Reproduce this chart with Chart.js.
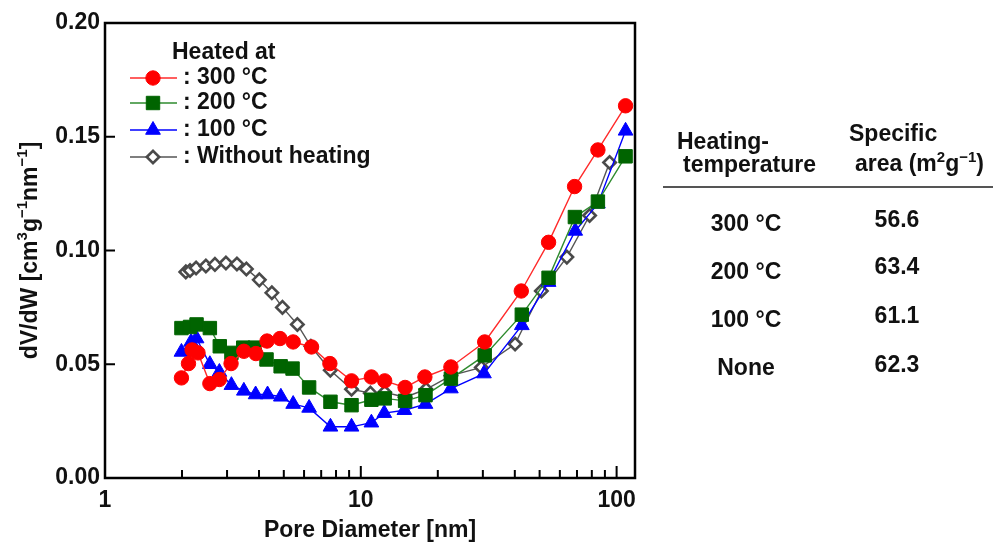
<!DOCTYPE html>
<html>
<head>
<meta charset="utf-8">
<script src="https://cdn.jsdelivr.net/npm/chart.js@4.4.1/dist/chart.umd.min.js"></script>
<style>
  html, body { margin: 0; padding: 0; background: #fff; }
  #wrap { position: relative; width: 993px; height: 548px; overflow: hidden; }
  #chart { position: absolute; left: 0; top: 0; }
  .cell { position: absolute; font: bold 23px "Liberation Sans", Arial, sans-serif; color: #111; white-space: nowrap; line-height: 1.15; }
  .c { transform: translate(-50%, -50%); }
  .l { transform: translateY(-50%); }
  .cell sup { font-size: 15px; line-height: 0; }
  #rule { position: absolute; left: 663px; top: 186px; width: 330px; height: 2px; background: #555; }
</style>
</head>
<body>
<div id="wrap">
  <canvas id="chart" width="993" height="548"></canvas>
  <div class="cell l" style="left:677px; top:141px;">Heating-</div>
  <div class="cell l" style="left:683px; top:164px;">temperature</div>
  <div class="cell l" style="left:849px; top:133px;">Specific</div>
  <div class="cell l" style="left:855px; top:163px;">area (m<sup>2</sup>g<sup>−1</sup>)</div>
  <div id="rule"></div>
  <div id="rows"></div>
</div>
<script>
// pore diameter (nm) and dV/dW for each sample
const dia300 = [1.99, 2.12, 2.19, 2.31, 2.57, 2.80, 3.11, 3.49, 3.89, 4.30, 4.83, 5.44, 6.42, 7.57, 9.20, 11.0, 12.4, 14.9, 17.8, 22.5, 30.5, 42.4, 54.2, 68.5, 84.5, 108.4];
const dvdw300 = [0.0440, 0.0503, 0.0563, 0.0550, 0.0415, 0.0433, 0.0503, 0.0557, 0.0547, 0.0602, 0.0613, 0.0598, 0.0576, 0.0503, 0.0427, 0.0444, 0.0427, 0.0398, 0.0444, 0.0488, 0.0598, 0.0822, 0.1036, 0.1281, 0.1442, 0.1636];

const dia200 = [1.99, 2.15, 2.28, 2.57, 2.81, 3.12, 3.47, 3.85, 4.28, 4.86, 5.41, 6.28, 7.61, 9.20, 11.0, 12.4, 14.9, 17.9, 22.5, 30.5, 42.6, 54.2, 68.7, 84.5, 108.4];
const dvdw200 = [0.0659, 0.0664, 0.0675, 0.0659, 0.0579, 0.0550, 0.0573, 0.0573, 0.0521, 0.0491, 0.0481, 0.0398, 0.0335, 0.0320, 0.0344, 0.0350, 0.0339, 0.0364, 0.0437, 0.0539, 0.0718, 0.0880, 0.1147, 0.1215, 0.1414];

const dia100 = [1.99, 2.17, 2.28, 2.57, 2.80, 3.12, 3.49, 3.88, 4.32, 4.87, 5.44, 6.28, 7.61, 9.20, 11.0, 12.35, 14.8, 17.9, 22.5, 30.3, 42.6, 54.2, 68.9, 84.5, 108.4];
const dvdw100 = [0.0554, 0.0598, 0.0613, 0.0500, 0.0466, 0.0408, 0.0383, 0.0367, 0.0367, 0.0357, 0.0325, 0.0308, 0.0225, 0.0225, 0.0243, 0.0285, 0.0298, 0.0325, 0.0393, 0.0459, 0.0671, 0.0861, 0.1086, 0.1206, 0.1526];

const diaNone = [2.07, 2.15, 2.27, 2.48, 2.69, 2.97, 3.28, 3.57, 4.01, 4.49, 4.94, 5.65, 6.38, 7.60, 9.20, 10.9, 12.4, 14.9, 18.0, 22.5, 29.6, 40.1, 50.8, 63.9, 78.4, 93.9];
const dvdwNone = [0.0906, 0.0912, 0.0923, 0.0932, 0.0939, 0.0945, 0.0941, 0.0919, 0.0871, 0.0814, 0.0750, 0.0675, 0.0579, 0.0474, 0.0390, 0.0373, 0.0377, 0.0355, 0.0390, 0.0450, 0.0486, 0.0589, 0.0822, 0.0971, 0.1154, 0.1387];

const legendLabels = [": 300 \u00b0C", ": 200 \u00b0C", ": 100 \u00b0C", ": Without heating"];
const xTickValues = [1, 2, 3, 4, 5, 6, 7, 8, 9, 10, 20, 30, 40, 50, 60, 70, 80, 90, 100];
const xLabelValues = [1, 10, 100];

// table on the right
const tableTemps = ["300 \u00b0C", "200 \u00b0C", "100 \u00b0C", "None"];
const tableAreas = ["56.6", "63.4", "61.1", "62.3"];
const tableTempY = [223, 271, 319, 367];
const tableAreaY = [219, 266, 315, 364];

const rows = document.getElementById("rows");
tableTemps.forEach((t, i) => {
  rows.insertAdjacentHTML("beforeend",
    `<div class="cell c" style="left:746px; top:${tableTempY[i]}px;">${t}</div>` +
    `<div class="cell c" style="left:897px; top:${tableAreaY[i]}px;">${tableAreas[i]}</div>`);
});

const FONT = '"Liberation Sans", Arial, sans-serif';
const pts = (xs, ys) => xs.map((x, i) => ({ x: x, y: ys[i] }));

const series = [
  { data: pts(dia300, dvdw300), line: "#ff2a2a", fill: "#ff0000", edge: "#ff0000", style: "circle", r: 7.2, bw: 1 },
  { data: pts(dia200, dvdw200), line: "#2e8b2e", fill: "#006400", edge: "#006400", style: "rect", r: 9.5, bw: 1 },
  { data: pts(dia100, dvdw100), line: "#0000ff", fill: "#0000ff", edge: "#0000ff", style: "triangle", r: 8.5, bw: 1 },
  { data: pts(diaNone, dvdwNone), line: "#555555", fill: "#ffffff", edge: "#4a4a4a", style: "rectRot", r: 6.2, bw: 2.6 },
];

const frameAndLegend = {
  id: "frameAndLegend",
  afterDraw(chart) {
    const { ctx, chartArea: a, scales } = chart;
    const x = scales.x, y = scales.y;
    ctx.save();
    ctx.strokeStyle = "#000";
    ctx.lineWidth = 2.5;
    ctx.strokeRect(a.left, a.top, a.right - a.left, a.bottom - a.top);

    // inward tick marks
    ctx.lineWidth = 2;
    ctx.beginPath();
    xTickValues.forEach((v) => {
      const px = x.getPixelForValue(v);
      const len = xLabelValues.includes(v) ? 12 : 8;
      ctx.moveTo(px, a.bottom);
      ctx.lineTo(px, a.bottom - len);
    });
    y.ticks.forEach((t) => {
      const py = y.getPixelForValue(t.value);
      ctx.moveTo(a.left, py);
      ctx.lineTo(a.left + 10, py);
    });
    ctx.stroke();

    // y axis title with superscripts
    const parts = [["dV/dW [cm", 0], ["3", 1], ["g", 0], ["\u22121", 1], ["nm", 0], ["\u22121", 1], ["]", 0]];
    const big = "bold 23px " + FONT, small = "bold 15px " + FONT;
    let total = 0;
    parts.forEach((p) => { ctx.font = p[1] ? small : big; total += ctx.measureText(p[0]).width; });
    ctx.translate(37, (a.top + a.bottom) / 2);
    ctx.rotate(-Math.PI / 2);
    ctx.fillStyle = "#111";
    ctx.textBaseline = "alphabetic";
    ctx.textAlign = "left";
    let cx = -total / 2;
    parts.forEach((p) => {
      ctx.font = p[1] ? small : big;
      ctx.fillText(p[0], cx, p[1] ? -10 : 0);
      cx += ctx.measureText(p[0]).width;
    });
    ctx.setTransform(1, 0, 0, 1, 0, 0);

    // legend
    ctx.font = big;
    ctx.textBaseline = "middle";
    ctx.fillText("Heated at", 172, 53);
    const rowY = [78, 103, 130, 157];
    series.forEach((s, i) => {
      ctx.strokeStyle = s.line;
      ctx.lineWidth = 1.4;
      ctx.beginPath();
      ctx.moveTo(130, rowY[i]);
      ctx.lineTo(177, rowY[i]);
      ctx.stroke();
      ctx.fillStyle = s.fill;
      ctx.strokeStyle = s.edge;
      ctx.lineWidth = s.bw;
      Chart.helpers.drawPoint(ctx, { pointStyle: s.style, radius: s.r, borderWidth: s.bw, rotation: 0 }, 153, rowY[i]);
      ctx.fillStyle = "#111";
      ctx.fillText(legendLabels[i], 183, rowY[i]);
    });
    ctx.restore();
  },
};

new Chart(document.getElementById("chart"), {
  type: "line",
  data: {
    datasets: series.map((s) => ({
      data: s.data,
      borderColor: s.line,
      borderWidth: 1.4,
      backgroundColor: s.fill,
      pointStyle: s.style,
      pointRadius: s.r,
      pointBackgroundColor: s.fill,
      pointBorderColor: s.edge,
      pointBorderWidth: s.bw,
      tension: 0,
      fill: false,
    })),
  },
  options: {
    responsive: false,
    animation: false,
    layout: { padding: { top: 23, right: 358, left: 0, bottom: 0 } },
    plugins: { legend: { display: false }, tooltip: { enabled: false } },
    scales: {
      x: {
        type: "logarithmic",
        min: 1,
        max: 118,
        afterFit(s) { s.height = 70; },
        afterBuildTicks(s) { s.ticks = xTickValues.map((v) => ({ value: v })); },
        grid: { display: false, drawTicks: false },
        border: { display: false },
        ticks: {
          autoSkip: false,
          maxRotation: 0,
          padding: 9,
          color: "#111",
          font: { family: FONT, size: 23, weight: "bold" },
          callback: (v) => (xLabelValues.includes(v) ? String(v) : ""),
        },
        title: {
          display: true,
          text: "Pore Diameter [nm]",
          color: "#111",
          font: { family: FONT, size: 23, weight: "bold" },
          padding: { top: 0, bottom: 4 },
        },
      },
      y: {
        min: 0,
        max: 0.2,
        afterFit(s) { s.width = 105; },
        grid: { display: false, drawTicks: false },
        border: { display: false },
        ticks: {
          stepSize: 0.05,
          padding: 5,
          color: "#111",
          font: { family: FONT, size: 23, weight: "bold" },
          callback: (v) => v.toFixed(2),
        },
      },
    },
  },
  plugins: [frameAndLegend],
});
</script>
</body>
</html>
